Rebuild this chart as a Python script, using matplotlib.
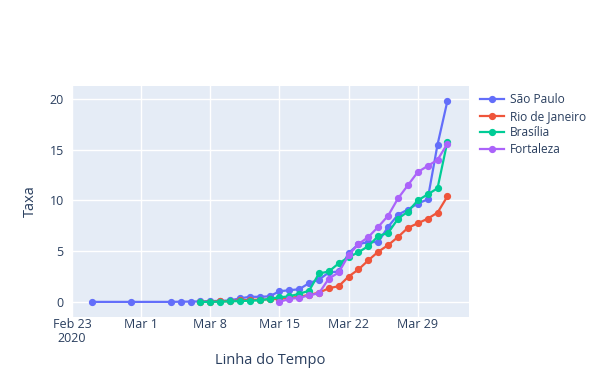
import numpy as np
import pandas as pd
import matplotlib
matplotlib.use("Agg")
import matplotlib.pyplot as plt
import matplotlib.dates as mdates

plt.rcParams['font.family'] = ['Open Sans', 'DejaVu Sans']

# datas de cada serie
sp_dates = pd.to_datetime(["2020-02-25", "2020-02-29"]).append(pd.date_range("2020-03-04", "2020-04-01"))
rj_dates = pd.date_range("2020-03-07", "2020-04-01")
df_dates = pd.date_range("2020-03-07", "2020-04-01")
ce_dates = pd.date_range("2020-03-15", "2020-04-01")

# taxas
sp_vals = [0.0, 0.0,
           0.0, 0.02, 0.03, 0.05, 0.08, 0.1, 0.15, 0.35, 0.5, 0.5, 0.55, 1.05, 1.15, 1.25,
           1.85, 2.2, 2.9, 3.0, 4.8, 5.7, 5.9, 5.9, 7.4, 8.6, 9.1, 9.7, 10.1, 15.5, 19.8]
rj_vals = [0.0, 0.02, 0.05, 0.08, 0.15, 0.2, 0.22, 0.25, 0.3, 0.4, 0.5, 0.7, 0.9,
           1.35, 1.55, 2.5, 3.2, 4.1, 4.95, 5.6, 6.4, 7.3, 7.75, 8.2, 8.8, 10.4]
df_vals = [0.0, 0.0, 0.03, 0.05, 0.08, 0.12, 0.15, 0.3, 0.45, 0.55, 0.8, 1.1, 2.8,
           3.0, 3.8, 4.4, 4.9, 5.5, 6.5, 6.8, 8.2, 8.9, 10.0, 10.6, 11.2, 15.8]
ce_vals = [0.0, 0.3, 0.4, 0.65, 0.85, 2.3, 2.9, 4.6, 5.7, 6.4, 7.4, 8.5, 10.2,
           11.5, 12.8, 13.4, 14.0, 15.6]

series = [
    ("São Paulo", sp_dates, sp_vals, "#636efa"),
    ("Rio de Janeiro", rj_dates, rj_vals, "#EF553B"),
    ("Brasília", df_dates, df_vals, "#00cc96"),
    ("Fortaleza", ce_dates, ce_vals, "#ab63fa"),
]

txt = "#2a3f5f"

fig = plt.figure(figsize=(6, 3.86), dpi=100)
ax = fig.add_axes([0.12, 0.179, 0.662, 0.598])
ax.set_facecolor("#E5ECF6")

for name, d, v, c in series:
    ax.plot(d, v, color=c, lw=1.6, marker="o", ms=4.2, label=name)

ax.set_ylim(-1.48, 21.28)
ax.set_yticks([0, 5, 10, 15, 20])
ax.set_xlim(pd.Timestamp("2020-02-23 00:00"), pd.Timestamp("2020-04-03 05:00"))
ticks = pd.date_range("2020-02-23", "2020-03-29", freq="7D")
ax.set_xticks(ticks)
ax.set_xticklabels(["Feb 23\n2020"] + [t.strftime("%b ") + str(t.day) for t in ticks[1:]])

ax.grid(True, color="white", lw=1)
ax.set_axisbelow(True)
for s in ax.spines.values():
    s.set_visible(False)
ax.tick_params(axis="y", length=0, labelsize=9, colors=txt, pad=6)
ax.tick_params(axis="x", length=0, labelsize=9, colors=txt, pad=1)
for lab in ax.get_xticklabels():
    lab.set_horizontalalignment("center")
    lab.set_linespacing(1.05)

ax.set_xlabel("Linha do Tempo", fontsize=10.5, color=txt, labelpad=6)
ax.set_ylabel("Taxa", fontsize=10.5, color=txt, labelpad=8)

leg = ax.legend(loc="upper left", bbox_to_anchor=(1.01, 1.0), frameon=False,
                fontsize=8.6, handlelength=2.0, handletextpad=0.5, labelspacing=0.3,
                borderaxespad=0.2)
for t in leg.get_texts():
    t.set_color(txt)

fig.savefig("out.png", dpi=100)
